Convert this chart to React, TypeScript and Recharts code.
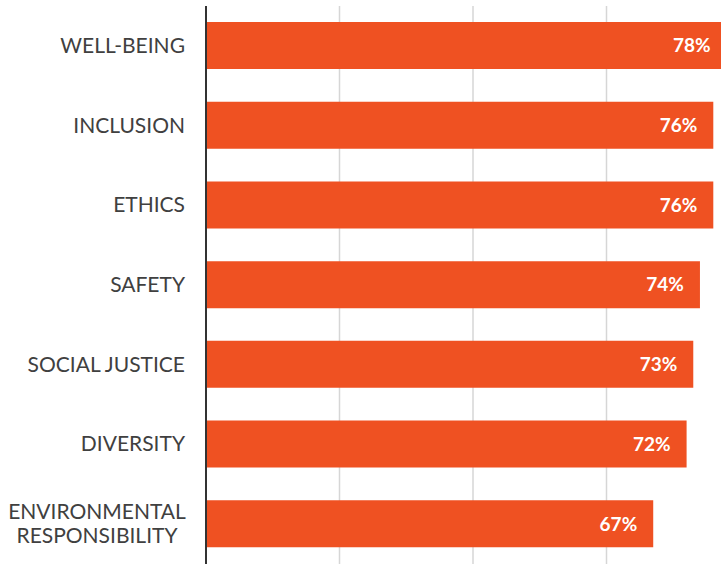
import React from 'react';
import { Bar, BarChart, CartesianGrid, LabelList, XAxis, YAxis } from 'recharts';

const categories = [
  'WELL-BEING',
  'INCLUSION',
  'ETHICS',
  'SAFETY',
  'SOCIAL JUSTICE',
  'DIVERSITY',
  'ENVIRONMENTAL\nRESPONSIBILITY',
];
const values = [78, 76, 76, 74, 73, 72, 67];
const xTicks = [0, 20, 40, 60, 80];

const data = categories.map((name, i) => ({ name, value: values[i] }));

const CategoryTick = (props: any) => {
  const { x, y, payload } = props;
  const lines: string[] = String(payload.value).split('\n');
  const multi = lines.length > 1;
  const tx = multi ? x - 88 : x;
  return (
    <text
      x={tx}
      y={y}
      textAnchor={multi ? 'middle' : 'end'}
      fill="#404040"
      fontFamily="Lato"
      fontSize={21}
    >
      {lines.map((line, i) => (
        <tspan key={i} x={tx} dy={i === 0 ? (multi ? -5 : 7) : 24}>
          {line}
        </tspan>
      ))}
    </text>
  );
};

const App: React.FC = () => {
  return (
    <div style={{ position: 'absolute', left: 0, top: 0, width: 721, height: 565, overflow: 'hidden', background: '#fff' }}>
      <BarChart
        width={740}
        height={565}
        data={data}
        layout="vertical"
        margin={{ top: 6, right: 0, bottom: 1, left: 0 }}
        barSize={47}
      >
        <CartesianGrid horizontal={false} stroke="#d6d6d6" strokeWidth={1.5} />
        <XAxis type="number" domain={[0, 80]} ticks={xTicks} hide />
        <YAxis
          type="category"
          dataKey="name"
          width={206}
          tickLine={false}
          axisLine={{ stroke: '#333', strokeWidth: 2 }}
          tick={<CategoryTick />}
          tickMargin={15}
          interval={0}
        />
        <Bar dataKey="value" fill="#ef5122" isAnimationActive={false}>
          <LabelList
            dataKey="value"
            position="insideRight"
            offset={16}
            formatter={(v: any) => `${v}%`}
            fill="#fff"
            fontFamily="Lato"
            fontWeight="bold"
            fontSize={19}
          />
        </Bar>
      </BarChart>
    </div>
  );
};

export default App;
